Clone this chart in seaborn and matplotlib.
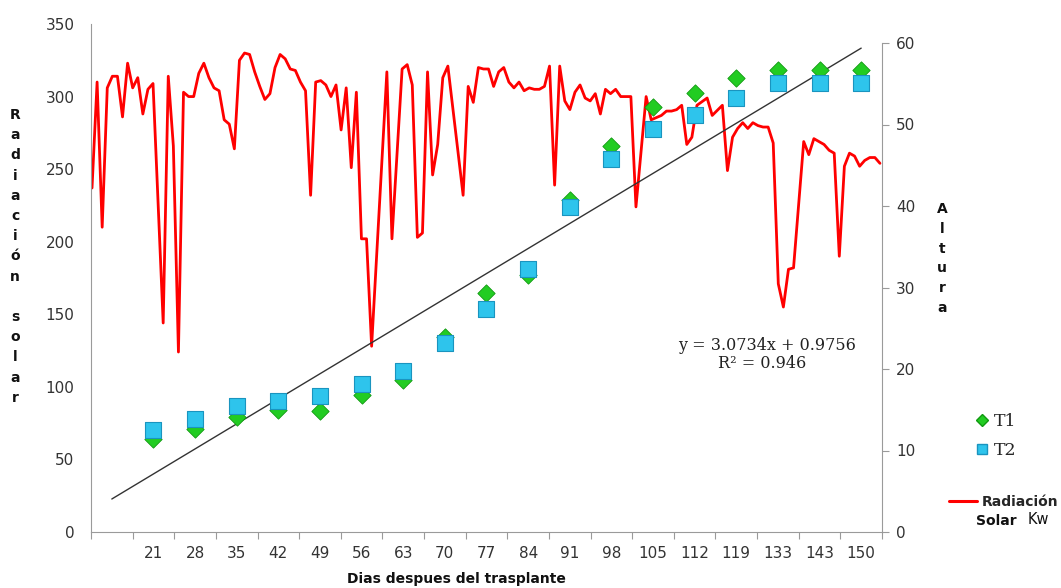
import matplotlib
matplotlib.use("Agg")
import matplotlib.pyplot as plt
import numpy as np
import pandas as pd
import seaborn as sns

# Categorias del eje X (dias despues del trasplante); la primera no tiene etiqueta
dias = ["", "21", "28", "35", "42", "49", "56", "63", "70", "77", "84",
        "91", "98", "105", "112", "119", "133", "143", "150"]

# Altura de plantas (eje derecho), desde la categoria 2 hasta la 19
altura_t1 = [11.4, 12.6, 14.1, 15.0, 14.8, 16.8, 18.7, 23.9, 29.3, 31.5,
             40.7, 47.4, 52.1, 53.9, 55.7, 56.7, 56.7, 56.7]
altura_t2 = [12.5, 13.9, 15.5, 16.1, 16.7, 18.2, 19.8, 23.2, 27.4, 32.3,
             39.9, 45.8, 49.4, 51.2, 53.3, 55.1, 55.1, 55.1]

# Linea de tendencia mostrada en la grafica
pendiente = 3.0734
intercepto = 0.9756
r2 = 0.946

# Radiacion solar diaria (eje izquierdo)
dia_rad = [0, 1, 2, 3, 4, 5, 6, 7, 8, 9, 10, 11, 12, 14, 15, 16, 17, 18, 19, 20,
           21, 22, 23, 24, 25, 26, 27, 28, 29, 30, 31, 32, 33, 34, 35, 36, 37, 38, 39, 40,
           41, 42, 43, 44, 45, 46, 47, 48, 49, 50, 51, 52, 53, 54, 55, 58, 59, 61, 62, 63,
           64, 65, 66, 67, 68, 69, 70, 73, 74, 75, 76, 77, 78, 79, 80, 81, 82, 83, 84, 85,
           86, 87, 88, 89, 90, 91, 92, 93, 94, 95, 96, 97, 98, 99, 100, 101, 102, 103, 104, 105,
           106, 107, 109, 110, 112, 113, 114, 115, 116, 117, 118, 119, 121, 122, 124, 125, 126, 127, 128, 129,
           130, 131, 132, 133, 134, 135, 136, 137, 138, 140, 141, 142, 143, 144, 145, 146, 147, 148, 149, 150,
           151, 152, 153, 154, 155]
radiacion = [237, 310, 210, 306, 314, 314, 286, 323, 306, 313, 288, 305, 309, 144, 314, 266, 124, 303, 300, 300,
             316, 323, 313, 306, 304, 284, 281, 264, 325, 330, 329, 317, 307, 298, 302, 320, 329, 326, 319, 318,
             310, 304, 232, 310, 311, 308, 300, 308, 277, 306, 251, 303, 202, 202, 128, 317, 202, 319, 322, 308,
             203, 206, 317, 246, 267, 313, 321, 232, 307, 296, 320, 319, 319, 307, 317, 320, 310, 306, 310, 304,
             306, 305, 305, 307, 321, 239, 321, 297, 291, 303, 308, 299, 297, 302, 288, 305, 302, 305, 300, 300,
             300, 224, 300, 284, 287, 290, 290, 291, 294, 267, 272, 294, 299, 287, 294, 249, 272, 278, 282, 278,
             282, 280, 279, 279, 268, 171, 155, 181, 182, 269, 260, 271, 269, 267, 263, 261, 190, 252, 261, 259,
             252, 256, 258, 258, 254]

W, H = 1061, 588
sns.set_style("white")
plt.rcParams["font.family"] = ["DejaVu Sans"]

fig = plt.figure(figsize=(W / 100, H / 100), dpi=100)
pos = [91 / W, 1 - 532 / H, (882 - 91) / W, (532 - 24) / H]
gris = "#9a9a9a"
texto = "#333333"

# ---- eje de radiacion (izquierda) ----
ax_rad = fig.add_axes(pos)
sns.lineplot(x=dia_rad, y=radiacion, ax=ax_rad, color="#ff0000", lw=2.0, legend=False)
ax_rad.set_xlim(-0.2, 155.4)
ax_rad.set_ylim(0, 350)
ax_rad.set_yticks(np.arange(0, 351, 50))
ax_rad.set_xticks([])
ax_rad.tick_params(axis="y", length=0, pad=12, labelsize=11, labelcolor=texto)
for s in ["top", "right", "bottom"]:
    ax_rad.spines[s].set_visible(False)
ax_rad.spines["left"].set_color(gris)
ax_rad.set_xlabel("")
ax_rad.set_ylabel("")

# ---- eje de altura (derecha) con categorias ----
ax_alt = fig.add_axes(pos)
ax_alt.patch.set_alpha(0)
cat = np.arange(1, len(dias) + 1)
df = pd.DataFrame({"x": cat[1:], "T1": altura_t1, "T2": altura_t2})

x_tend = np.array([cat[0], cat[-1]])
sns.lineplot(x=x_tend, y=pendiente * x_tend + intercepto, ax=ax_alt,
             color="#333333", lw=1.0, legend=False)
sns.scatterplot(data=df, x="x", y="T1", ax=ax_alt, marker="D", s=78,
                color="#22cc22", edgecolor="#119911", linewidth=0.6, zorder=3)
sns.scatterplot(data=df, x="x", y="T2", ax=ax_alt, marker="s", s=120,
                color="#2ec4ec", edgecolor="#1a94bf", linewidth=0.8, zorder=4)

ax_alt.set_xlim(0.5, len(dias) + 0.5)
ax_alt.set_ylim(0, 60 * 508 / 489)
ax_alt.set_yticks(np.arange(0, 61, 10))
ax_alt.yaxis.tick_right()
ax_alt.set_xticks(np.arange(0.5, len(dias) + 1, 1))
ax_alt.set_xticklabels([])
ax_alt.set_xticks(cat, minor=True)
ax_alt.set_xticklabels(dias, minor=True)
ax_alt.tick_params(axis="x", which="major", length=5, color=gris, direction="out", bottom=True)
ax_alt.tick_params(axis="x", which="minor", length=0, pad=10, labelsize=11, labelcolor=texto)
ax_alt.tick_params(axis="y", length=5, color=gris, direction="out", right=True,
                   pad=5, labelsize=11, labelcolor=texto)
for s in ["top", "left"]:
    ax_alt.spines[s].set_visible(False)
ax_alt.spines["right"].set_color(gris)
ax_alt.spines["right"].set_bounds(0, 60)
ax_alt.spines["bottom"].set_color(gris)
ax_alt.set_xlabel("")
ax_alt.set_ylabel("")

# ---- titulos de ejes (letras apiladas) ----
def apilado(palabra, x, y0, paso):
    for i, letra in enumerate(palabra):
        fig.text(x / W, 1 - (y0 + i * paso) / H, letra, ha="center", va="center",
                 fontsize=10, fontweight="bold", color="#111111")

apilado("Radiación solar", 15, 115, 20.2)
apilado("Altura", 942, 209, 19.8)
fig.text(456 / W, 1 - 579 / H, "Dias despues del trasplante", ha="center", va="center",
         fontsize=10, fontweight="bold", color="#111111")

# ---- ecuacion de la tendencia ----
fig.text(767 / W, 1 - 345 / H, f"y = {pendiente}x + {intercepto}", ha="center", va="center",
         fontsize=11.5, family="DejaVu Serif", color="#222222")
fig.text(762 / W, 1 - 364 / H, f"R² = {r2}", ha="center", va="center",
         fontsize=11.5, family="DejaVu Serif", color="#222222")

# ---- leyendas ----
h_t1 = plt.Line2D([], [], marker="D", ls="none", color="#22cc22", markeredgecolor="#119911", markersize=6)
h_t2 = plt.Line2D([], [], marker="s", ls="none", color="#2ec4ec", markeredgecolor="#1a94bf", markersize=7)
leg1 = fig.legend([h_t1, h_t2], ["T1", "T2"], loc="center left",
                  bbox_to_anchor=(966 / W, 1 - 436 / H), frameon=False, handlelength=0.8,
                  handletextpad=0.3, labelspacing=0.7, borderpad=0,
                  prop={"family": "DejaVu Serif", "size": 12.5})
h_rad = plt.Line2D([], [], color="#ff0000", lw=2.2)
leg2 = fig.legend([h_rad], ["Radiación"], loc="center left",
                  bbox_to_anchor=(942 / W, 1 - 502 / H), frameon=False, handlelength=2.0,
                  handletextpad=0.35, borderpad=0, prop={"weight": "bold", "size": 10})
fig.text(976 / W, 1 - 521 / H, "Solar", ha="left", va="center", fontsize=10,
         fontweight="bold", color="#111111")
fig.text(1028 / W, 1 - 519 / H, "Kw", ha="left", va="center", fontsize=10.5, color="#111111")

fig.savefig("out.png", dpi=100)
